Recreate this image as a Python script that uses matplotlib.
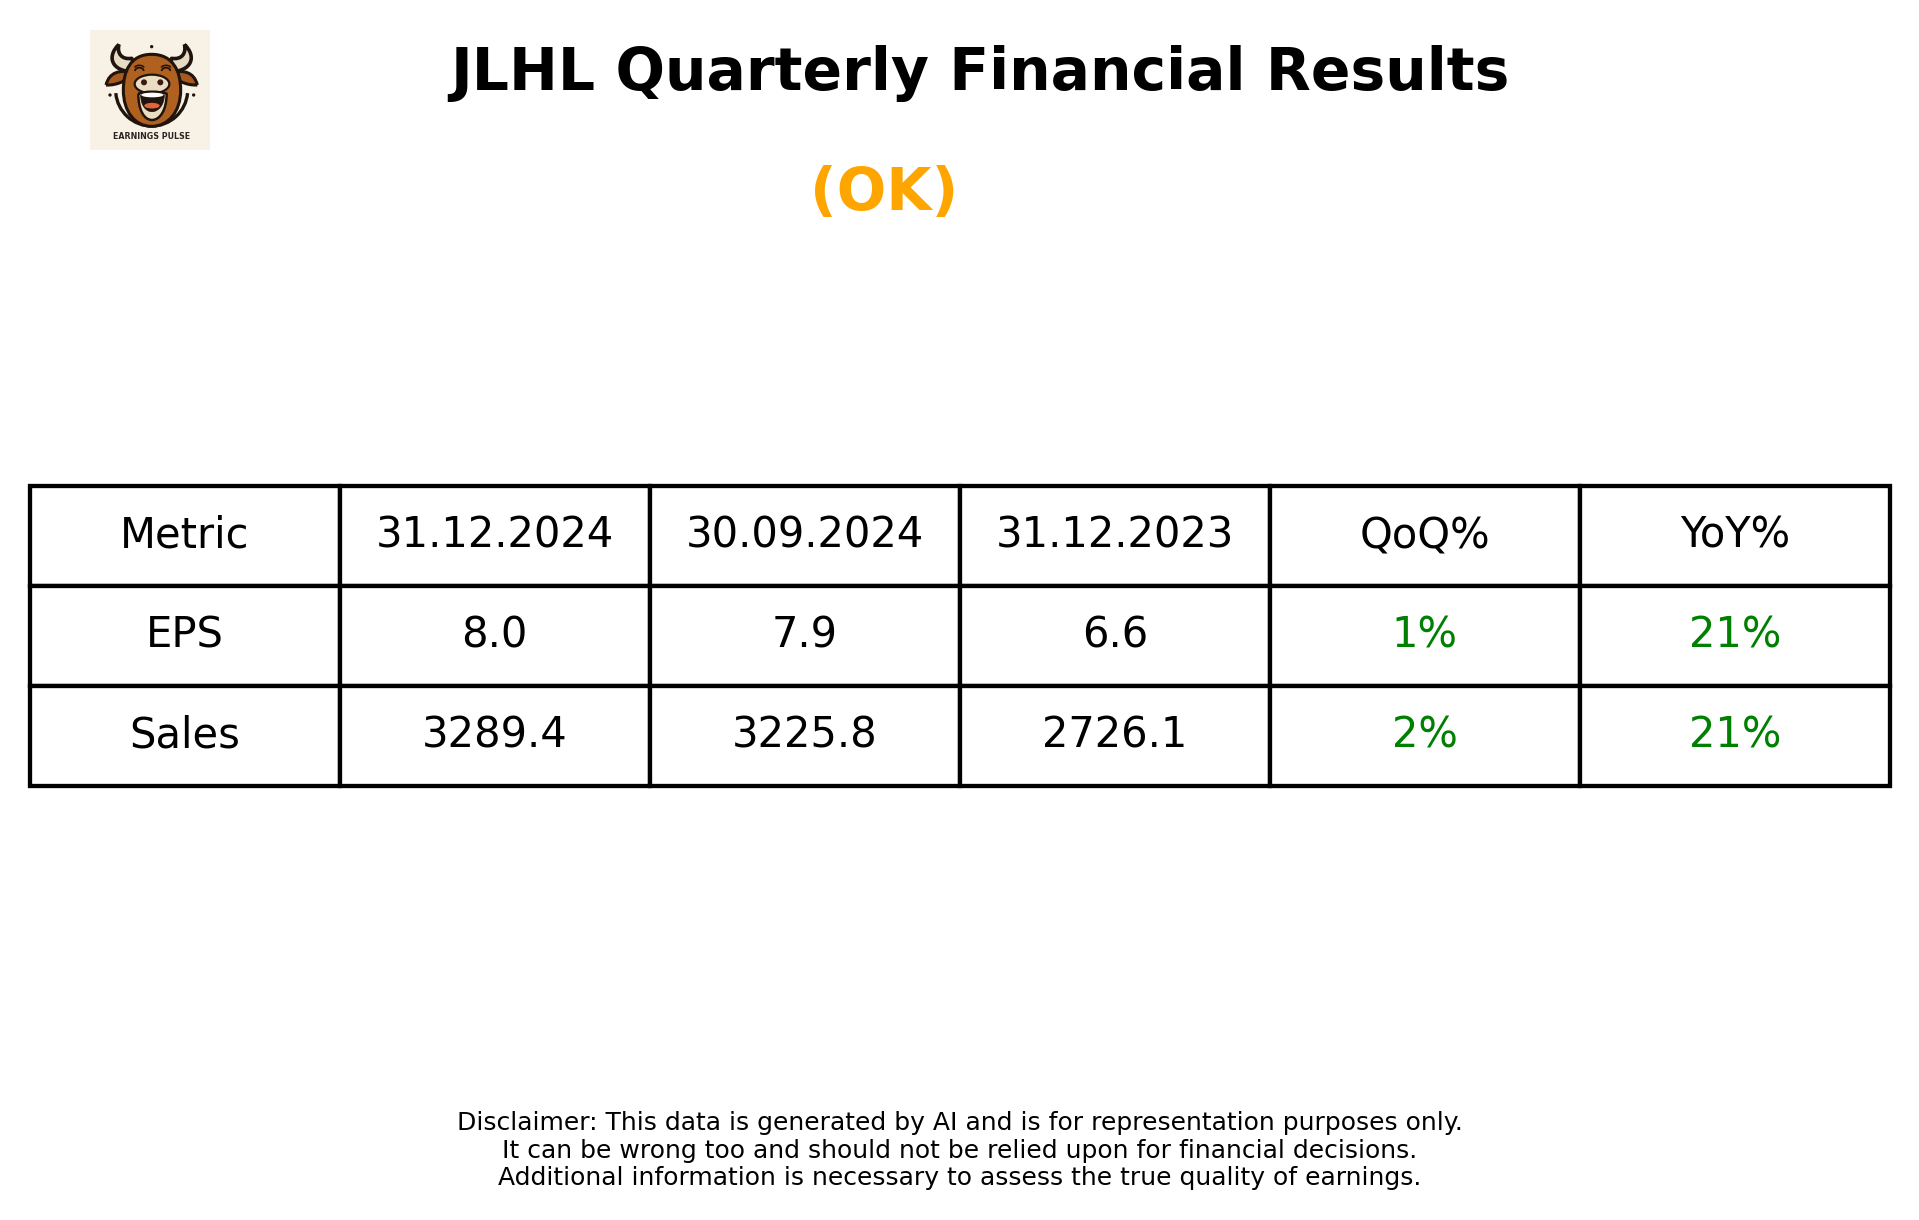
import matplotlib
matplotlib.use("Agg")
import matplotlib.pyplot as plt
from matplotlib.patches import Ellipse, Circle, PathPatch, Arc
from matplotlib.path import Path

W, H = 1919, 1220
columns = ["Metric", "31.12.2024", "30.09.2024", "31.12.2023", "QoQ%", "YoY%"]
eps_row = ["EPS", "8.0", "7.9", "6.6", "1%", "21%"]
sales_row = ["Sales", "3289.4", "3225.8", "2726.1", "2%", "21%"]
title_text = "JLHL Quarterly Financial Results"
rating_text = "(OK)"
disclaimer_lines = [
    "Disclaimer: This data is generated by AI and is for representation purposes only.",
    "It can be wrong too and should not be relied upon for financial decisions.",
    "Additional information is necessary to assess the true quality of earnings.",
]

fig = plt.figure(figsize=(W / 100, H / 100), dpi=100, facecolor="white")
ax = fig.add_axes([0, 0, 1, 1])
ax.set_axis_off()

L, R, T, B = 29.5, 1890, 486, 786
table = ax.table(
    cellText=[columns, eps_row, sales_row],
    cellLoc="center",
    bbox=[L / W, 1 - B / H, (R - L) / W, (B - T) / H],
)
table.auto_set_font_size(False)
for (r, c), cell in table.get_celld().items():
    cell.set_linewidth(3.1)
    cell.set_edgecolor("black")
    cell.set_facecolor("white")
    cell.get_text().set_fontsize(30)
    if r > 0 and c >= 4:
        cell.get_text().set_color("green")

fig.text(980 / W, 1 - 73.5 / H, title_text, fontsize=42, fontweight="bold", ha="center", va="center", color="black")
fig.text(884 / W, 1 - 193.5 / H, rating_text, fontsize=42, fontweight="bold", ha="center", va="center", color="orange")
for line, y in zip(disclaimer_lines, [1123, 1151, 1178]):
    fig.text(960 / W, 1 - y / H, line, fontsize=18.0, ha="center", va="center", color="black")

# logo
lg = fig.add_axes([90 / W, 1 - 150 / H, 120 / W, 120 / H])
lg.set_xlim(60, 420)
lg.set_ylim(405, 45)
lg.set_axis_off()
lg.add_patch(plt.Rectangle((60, 45), 360, 360, fc="#f8f2e6", ec="none"))
dark = "#20140c"
brown = "#b0601f"

def mirror(pts):
    return [(490 - x, y) for x, y in pts]

def shape(pts, fc, lw=2.2, ec=dark):
    codes = [Path.MOVETO] + [Path.CURVE4] * (len(pts) - 1)
    lg.add_patch(PathPatch(Path(pts, codes), fc=fc, ec=ec, lw=lw, joinstyle="round"))

horn_l = [(147, 88), (108, 125), (125, 170), (190, 170), (195, 150), (190, 140), (185, 130),
          (155, 135), (140, 115), (147, 88)]
ear_l = [(108, 210), (118, 170), (150, 165), (185, 172), (180, 195), (140, 212), (108, 210)]
for pts in (horn_l, mirror(horn_l)):
    shape(pts, "#e6dcc6", lw=2.6)
for pts in (ear_l, mirror(ear_l)):
    shape(pts, "#a85a1e")
lg.add_patch(Arc((245, 225), 216, 216, theta1=5, theta2=175, ec=dark, lw=2.4))
head = [(245, 118), (180, 118), (160, 170), (160, 225), (160, 290), (195, 334), (245, 334),
        (295, 334), (332, 290), (332, 225), (332, 170), (310, 118), (245, 118)]
shape(head, brown, lw=2.2)
lg.add_patch(Ellipse((246, 207), 104, 56, fc="#e9ddc4", ec=dark, lw=1.6))
lg.add_patch(Circle((222, 202), 9, fc="#3d1a10", ec="none"))
lg.add_patch(Circle((271, 202), 9, fc="#3d1a10", ec="none"))
jaw = [(205, 236), (230, 228), (262, 228), (290, 236), (290, 285), (270, 315), (246, 315),
       (222, 315), (205, 285), (205, 236)]
shape(jaw, "#e9ddc4", lw=1.8)
mouth = [(212, 240), (235, 234), (258, 234), (283, 240), (283, 270), (265, 290), (246, 290),
         (227, 290), (212, 270), (212, 240)]
shape(mouth, dark, lw=0.5)
lg.add_patch(Ellipse((247, 240), 66, 14, fc="white", ec="none"))
lg.add_patch(Ellipse((246, 272), 46, 17, fc="#e2643a", ec="none"))
for x in (208, 288):
    lg.add_patch(Arc((x, 168), 26, 20, theta1=180, theta2=360, ec=dark, lw=1.3))
    lg.add_patch(Arc((x, 160), 30, 18, theta1=190, theta2=350, ec=dark, lw=1.1))
for x, y in [(245, 95), (120, 240), (371, 240)]:
    lg.add_patch(Circle((x, y), 5, fc=dark, ec="none"))
lg.text(245, 365, "EARNINGS PULSE", fontsize=5.7, fontweight="bold", color="#2a2420", ha="center", va="center")

fig.savefig("out.png", dpi=100)
